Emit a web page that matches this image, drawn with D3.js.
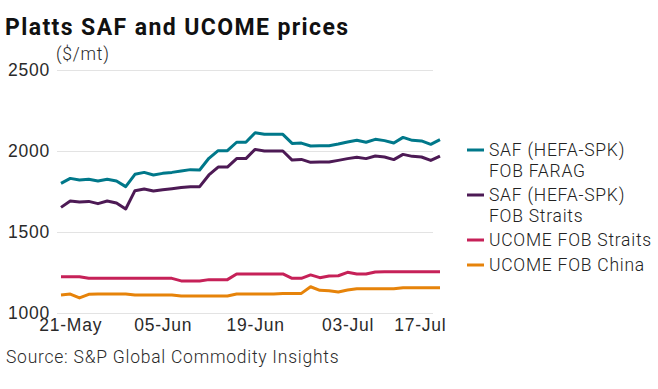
<!DOCTYPE html>
<html>
<head>
<meta charset="utf-8">
<script src="https://cdn.jsdelivr.net/npm/d3@7"></script>
<style>
  body { margin: 0; background: #fff; }
  svg { display: block; font-family: Roboto, "Noto Sans", sans-serif; }
  .lbl { font-size: 17.5px; font-weight: 300; letter-spacing: 0.75px; fill: #2a2a2a; }
</style>
</head>
<body>
<div id="visContainer"></div>
<script>
// business days, 20-May to 17-Jul (22-May missing)
const dates = [
  "20-May", "21-May", "23-May", "24-May", "27-May", "28-May", "29-May", "30-May", "31-May",
  "03-Jun", "04-Jun", "05-Jun", "06-Jun", "07-Jun", "10-Jun", "11-Jun", "12-Jun", "13-Jun", "14-Jun",
  "17-Jun", "18-Jun", "19-Jun", "20-Jun", "21-Jun", "24-Jun", "25-Jun", "26-Jun", "27-Jun", "28-Jun",
  "01-Jul", "02-Jul", "03-Jul", "04-Jul", "05-Jul", "08-Jul", "09-Jul", "10-Jul", "11-Jul", "12-Jul",
  "15-Jul", "16-Jul", "17-Jul"
];
const tickDates = ["21-May", "05-Jun", "19-Jun", "03-Jul", "17-Jul"];
const yTicks = [1000, 1500, 2000, 2500];

const safFarag = [
  1800, 1831, 1821, 1825, 1815, 1825, 1815, 1780, 1856, 1868,
  1852, 1862, 1868, 1877, 1885, 1883, 1955, 2002, 2002, 2054,
  2054, 2113, 2103, 2103, 2103, 2047, 2049, 2031, 2033, 2033,
  2043, 2056, 2066, 2054, 2072, 2064, 2049, 2084, 2066, 2062,
  2041, 2070
];
const safStraits = [
  1652, 1691, 1685, 1689, 1675, 1691, 1679, 1642, 1755, 1765,
  1753, 1761, 1767, 1774, 1780, 1780, 1852, 1901, 1901, 1953,
  1953, 2010, 2000, 2000, 2000, 1944, 1948, 1930, 1932, 1932,
  1942, 1953, 1961, 1953, 1969, 1963, 1947, 1979, 1967, 1963,
  1942, 1969
];
const ucomeStraits = [
  1224, 1224, 1224, 1214, 1214, 1214, 1214, 1214, 1214, 1214,
  1214, 1214, 1214, 1198, 1198, 1198, 1206, 1206, 1206, 1241,
  1241, 1241, 1241, 1241, 1241, 1214, 1214, 1235, 1218, 1228,
  1230, 1251, 1241, 1241, 1253, 1255, 1255, 1255, 1255, 1255,
  1255, 1255
];
const ucomeChina = [
  1111, 1117, 1093, 1115, 1117, 1117, 1117, 1117, 1111, 1111,
  1111, 1111, 1111, 1105, 1105, 1105, 1105, 1105, 1105, 1117,
  1117, 1117, 1117, 1117, 1121, 1121, 1121, 1162, 1140, 1138,
  1130, 1142, 1150, 1150, 1150, 1150, 1150, 1156, 1156, 1156,
  1156, 1156
];

const seriesNames = [
  ["SAF (HEFA-SPK)", "FOB FARAG"],
  ["SAF (HEFA-SPK)", "FOB Straits"],
  ["UCOME FOB Straits"],
  ["UCOME FOB China"]
];
const seriesValues = [safFarag, safStraits, ucomeStraits, ucomeChina];
const colors = ["#00788a", "#4d1a55", "#c62158", "#e6830a"];

const width = 658;
const height = 389;
const margin = { top: 70, right: 213, bottom: 76, left: 57 };

const svg = d3
  .select("#visContainer")
  .append("svg")
  .attr("width", width)
  .attr("height", height);

const xScale = d3
  .scalePoint()
  .domain(dates)
  .range([61, 440]);

const yScale = d3
  .scaleLinear()
  .domain([1000, 2500])
  .range([height - margin.bottom, margin.top]);

// title + unit
svg.append("text")
  .attr("x", 5)
  .attr("y", 35)
  .attr("font-size", 23)
  .attr("font-weight", 700)
  .attr("letter-spacing", 1.4)
  .attr("fill", "#111")
  .text("Platts SAF and UCOME prices");

svg.append("text")
  .attr("class", "lbl")
  .attr("x", 56)
  .attr("y", 60)
  .text("($/mt)");

// gridlines + y labels
const yAxis = svg.append("g")
  .attr("transform", `translate(${margin.left}, 0)`)
  .call(d3.axisLeft(yScale)
    .tickValues(yTicks)
    .tickFormat(d3.format("d"))
    .tickSize(-(width - margin.right - margin.left - 12))
    .tickPadding(7));
yAxis.select(".domain").remove();
yAxis.selectAll(".tick line").attr("stroke", "#e3e3e3");
yAxis.selectAll(".tick text")
  .attr("class", "lbl")
  .attr("font-family", null)
  .attr("font-size", null);

// x labels
const xAxis = svg.append("g")
  .attr("transform", `translate(0, ${yScale(1000)})`)
  .call(d3.axisBottom(xScale).tickValues(tickDates).tickSize(0).tickPadding(6));
xAxis.select(".domain").remove();
xAxis.selectAll(".tick text")
  .attr("class", "lbl")
  .attr("font-family", null)
  .attr("font-size", null);
// keep last label inside plot
xAxis.selectAll(".tick text").each(function (d) {
  const bb = this.getBBox();
  const right = xScale(d) + bb.x + bb.width;
  if (right > 446) d3.select(this).attr("dx", 446 - right);
});

// lines
const line = d3.line()
  .x((d, i) => xScale(dates[i]))
  .y((d) => yScale(d));

svg.selectAll("path.series")
  .data(seriesValues)
  .join("path")
  .attr("class", "series")
  .attr("fill", "none")
  .attr("stroke", (d, i) => colors[i])
  .attr("stroke-width", 3)
  .attr("stroke-linejoin", "round")
  .attr("d", line);

// legend
const legendY = [150, 195, 240, 265];
const legend = svg.selectAll("g.legend")
  .data(seriesNames)
  .join("g")
  .attr("class", "legend")
  .attr("transform", (d, i) => `translate(467, ${legendY[i]})`);

legend.append("line")
  .attr("x1", 0)
  .attr("x2", 17)
  .attr("stroke", (d, i) => colors[i])
  .attr("stroke-width", 3);

legend.append("text")
  .attr("class", "lbl")
  .style("fill", "#222")
  .selectAll("tspan")
  .data((d) => d)
  .join("tspan")
  .attr("x", 22)
  .attr("y", (d, i) => i * 21)
  .attr("dy", "0.35em")
  .text((d) => d);

svg.append("text")
  .attr("class", "lbl")
  .attr("x", 6)
  .attr("y", 363)
  .text("Source: S&P Global Commodity Insights");
</script>
</body>
</html>
